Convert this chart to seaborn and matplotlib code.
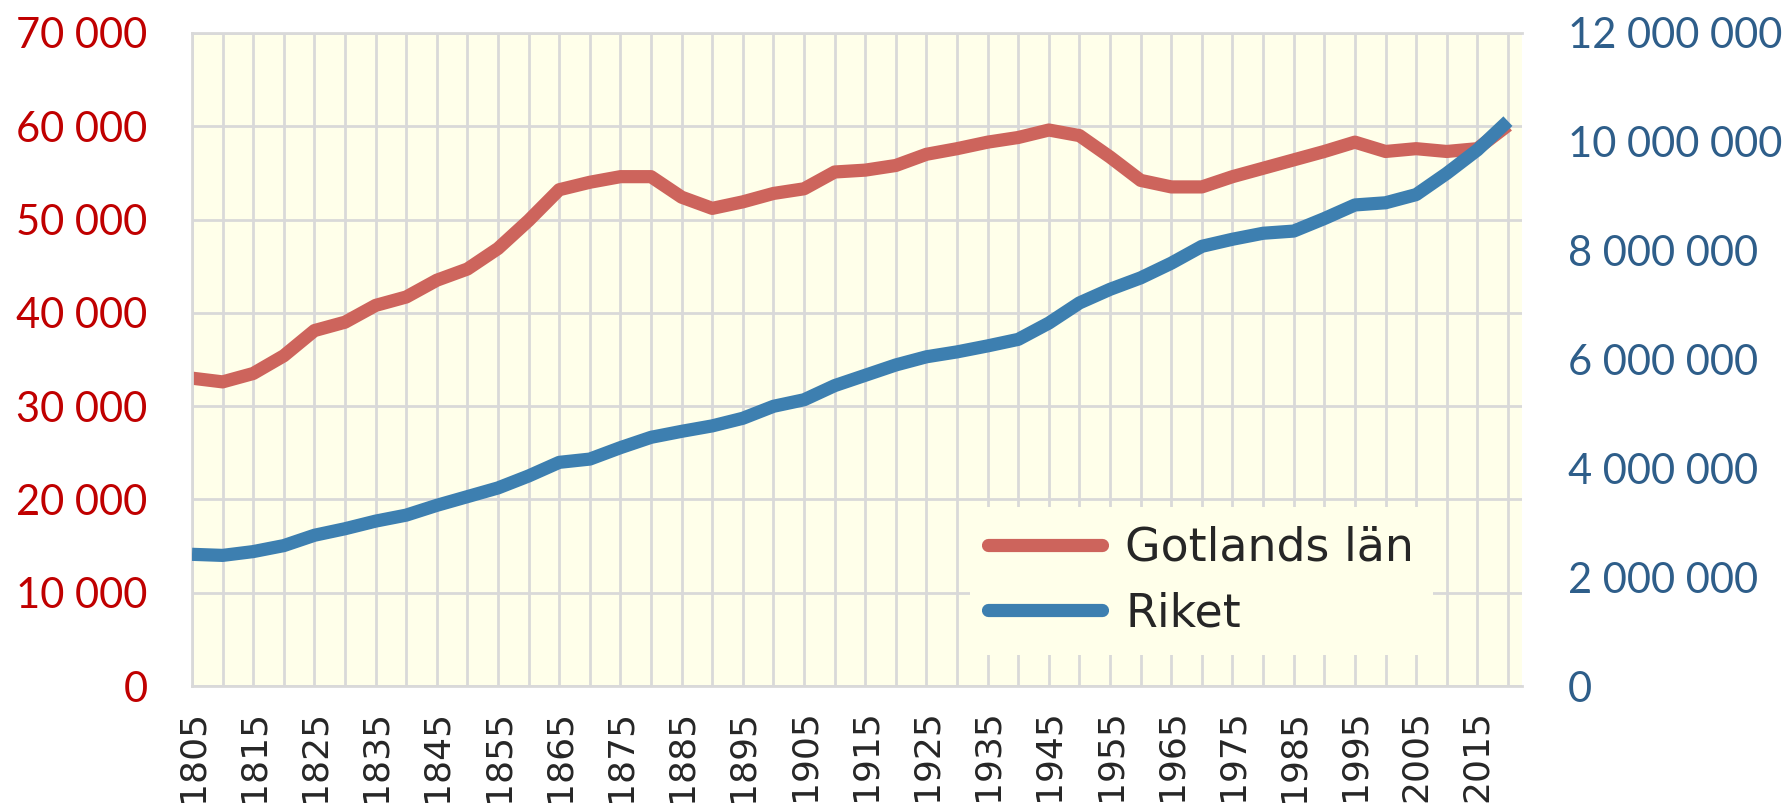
import matplotlib.pyplot as plt
import pandas as pd
import seaborn as sns
from matplotlib.lines import Line2D

# population every 5 years, 1805-2020
years = list(range(1805, 2021, 5))
gotland = [
    33000, 32600, 33500, 35400, 38100, 39000, 40800, 41700, 43500, 44700,
    46900, 49900, 53200, 54000, 54600, 54600, 52400, 51200, 51900, 52800,
    53300, 55100, 55300, 55800, 57000, 57600, 58300, 58800, 59600, 59000,
    56700, 54200, 53500, 53500, 54600, 55500, 56400, 57300, 58300, 57300,
    57600, 57300, 57600, 60100,
]
riket = [
    2420000, 2400000, 2470000, 2580000, 2770000, 2890000, 3030000, 3140000,
    3320000, 3480000, 3640000, 3860000, 4110000, 4170000, 4380000, 4570000,
    4680000, 4780000, 4920000, 5140000, 5260000, 5520000, 5710000, 5900000,
    6050000, 6140000, 6250000, 6370000, 6670000, 7040000, 7290000, 7500000,
    7770000, 8080000, 8210000, 8320000, 8360000, 8590000, 8840000, 8880000,
    9030000, 9420000, 9850000, 10380000,
]
series_labels = ["Gotlands län", "Riket"]
xtick_years = list(range(1805, 2016, 10))
left_ticks = [0, 10000, 20000, 30000, 40000, 50000, 60000, 70000]
right_ticks = [0, 2000000, 4000000, 6000000, 8000000, 10000000, 12000000]

RED = "#CD645C"
BLUE = "#3D7FB0"
BG = "#FFFFEA"
GRID = "#D9D9D9"
LEFT_TXT = "#C00000"
RIGHT_TXT = "#2E5E8A"
LW = 9.5


def fmt(v):
    return f"{v:,}".replace(",", " ")


sns.set_style("white")
plt.rcParams["font.family"] = ["DejaVu Sans"]

df = pd.DataFrame({"year": years, "gotland": gotland, "riket": riket})

W, H = 1791, 806
fig = plt.figure(figsize=(W / 100, H / 100), dpi=100)
ax = fig.add_axes([192 / W, 1 - 686 / H, 1330 / W, 653 / H])
ax.set_facecolor(BG)
ax2 = ax.twinx()

sns.lineplot(data=df, x="year", y="gotland", ax=ax, color=RED,
             linewidth=LW, solid_capstyle="butt")
sns.lineplot(data=df, x="year", y="riket", ax=ax2, color=BLUE,
             linewidth=LW, solid_capstyle="butt")

ax.set_xlim(1805, 2022.3)
ax.set_ylim(0, 70000)
ax2.set_ylim(0, 12000000)

ax.set_xticks(xtick_years)
ax.set_xticklabels([str(y) for y in xtick_years], rotation=90, fontsize=26)
ax.set_xticks(years, minor=True)
ax.set_yticks(left_ticks)
ax.set_yticklabels([fmt(v) for v in left_ticks], fontsize=30,
                   fontfamily="Lato", color=LEFT_TXT)
ax2.set_yticks(right_ticks)
ax2.set_yticklabels([fmt(v) for v in right_ticks], fontsize=30,
                    fontfamily="Lato", color=RIGHT_TXT)

ax.grid(which="both", axis="x", color=GRID, linewidth=2.0)
ax.grid(which="major", axis="y", color=GRID, linewidth=2.0)
ax.tick_params(axis="x", which="both", length=0, pad=17)
ax.tick_params(axis="y", length=0, pad=32)
ax2.tick_params(axis="y", length=0, pad=33)

for side in ["left", "top", "bottom"]:
    ax.spines[side].set_color(GRID)
    ax.spines[side].set_linewidth(2.0)
ax.spines["right"].set_visible(False)
for side in ax2.spines:
    ax2.spines[side].set_visible(False)

ax.set_xlabel("")
ax.set_ylabel("")
ax2.set_ylabel("")

handles = [Line2D([], [], color=RED, linewidth=LW),
           Line2D([], [], color=BLUE, linewidth=LW)]
ax2.legend(handles, series_labels, loc="lower right",
           bbox_to_anchor=(0.95, 0.013), frameon=True, facecolor=BG,
           edgecolor="none", framealpha=1, fancybox=False, fontsize=33,
           handlelength=2.5, handletextpad=0.5, labelspacing=0.45,
           borderpad=0.4)

fig.savefig("out.png", dpi=100)
plt.close(fig)
